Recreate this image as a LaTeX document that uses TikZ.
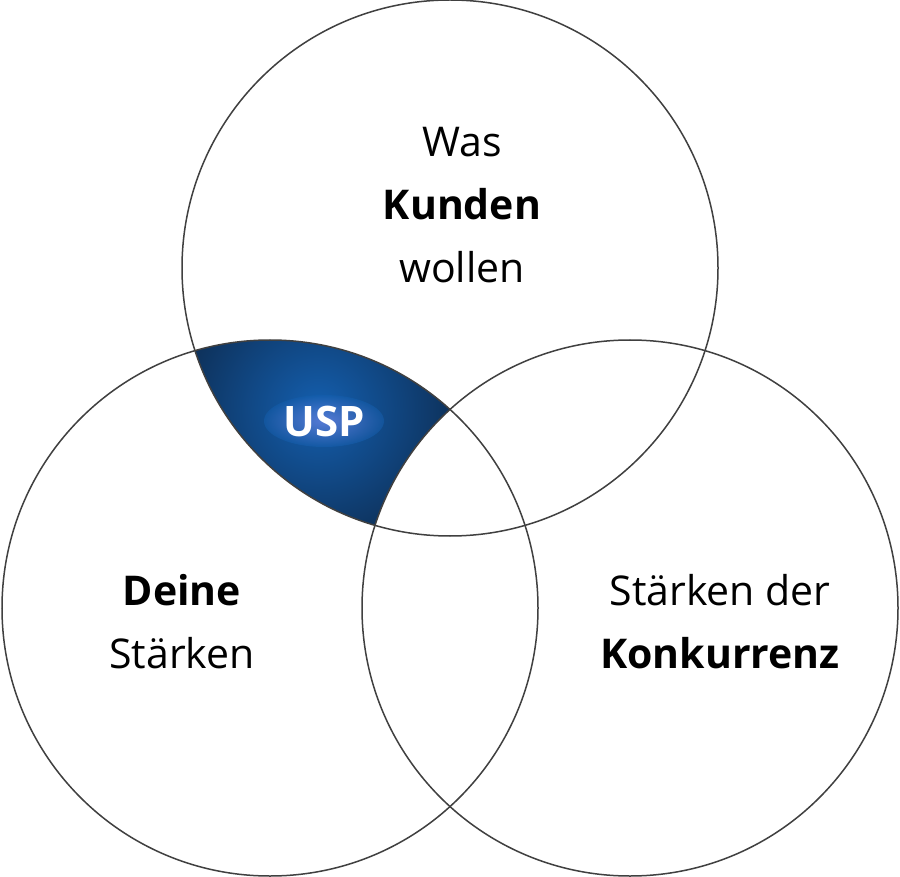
\documentclass[tikz,border=0pt]{standalone}
\usepackage{fontspec}
\setmainfont{Open Sans}
\begin{document}
\begin{tikzpicture}[x=1pt,y=-1pt,
  ring/.style={draw=black!75,line width=1.5pt},
  lbl/.style={font=\fontsize{41}{63}\selectfont,align=center,text=black}]
\useasboundingbox[fill=white] (0,0) rectangle (900,877);
\coordinate (ct) at (450,268);
\coordinate (cl) at (270,608);
\coordinate (cr) at (630,608);
\begin{scope}
  \clip (ct) circle (268);
  \clip (cl) circle (268);
  \begin{scope}[even odd rule]
  \clip (0,0) rectangle (900,877) (cr) circle (268);
  \shade[inner color={rgb,255:red,20;green,95;blue,175},outer color={rgb,255:red,12;green,38;blue,70}] (318,410) circle (170);
  \shade[inner color=blue!40!white,outer color={rgb,255:red,20;green,95;blue,175},opacity=0.5] (324,421) ellipse (60 and 26);
  \end{scope}
\end{scope}
\draw[ring] (ct) circle (268);
\draw[ring] (cl) circle (268);
\draw[ring] (cr) circle (268);
\node[lbl] (kunden) at (462,205) {Was\\\textbf{Kunden}\\wollen};
\node[lbl] (deine) at (182,622) {\textbf{Deine}\\Stärken};
\node[lbl] (konk) at (720,622) {Stärken der\\\textbf{Konkurrenz}};
\node[font=\fontsize{42}{50}\selectfont\bfseries,text=white] (usp) at (324,421) {USP};
\end{tikzpicture}
\end{document}
